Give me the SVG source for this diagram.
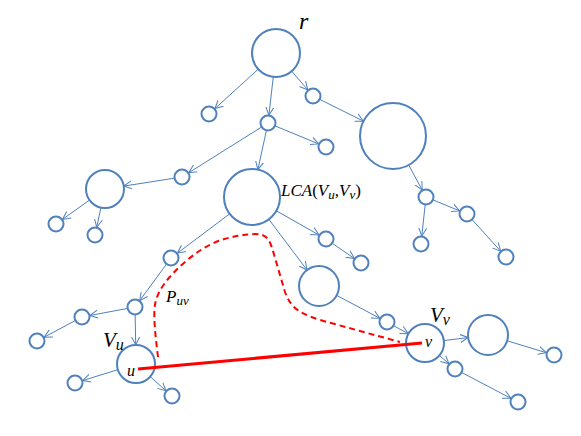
<svg xmlns="http://www.w3.org/2000/svg" width="581" height="436" viewBox="0 0 581 436">
<style>
.n{fill:#fff;stroke:#4f81bd;stroke-width:2}
.e{stroke:#4f81bd;stroke-width:1;fill:none;marker-end:url(#ah)}
.t{font-family:"Liberation Serif","DejaVu Serif",serif;font-style:italic;fill:#000}
.up{font-style:normal}
</style>
<defs>
<marker id="ah" markerUnits="userSpaceOnUse" markerWidth="10" markerHeight="10" refX="8" refY="4" orient="auto" viewBox="0 0 10 8">
<path d="M0,0 L8,4 L0,8" fill="none" stroke="#4f81bd" stroke-width="1"/>
</marker>
</defs>
<g id="connectors">
<line class="e" x1="276" y1="53" x2="214.9" y2="108.6"/>
<line class="e" x1="276" y1="53" x2="268.9" y2="115.1"/>
<line class="e" x1="276" y1="53" x2="307.8" y2="89.9"/>
<line class="e" x1="313" y1="96" x2="363.5" y2="121.2"/>
<line class="e" x1="268" y1="123" x2="188.8" y2="172.7"/>
<line class="e" x1="268" y1="123" x2="257.9" y2="169.6"/>
<line class="e" x1="268" y1="123" x2="318.6" y2="143.9"/>
<line class="e" x1="182" y1="177" x2="123.8" y2="186.1"/>
<line class="e" x1="105" y1="189" x2="62.5" y2="219.4"/>
<line class="e" x1="105" y1="189" x2="96.7" y2="227.2"/>
<line class="e" x1="393" y1="136" x2="422.2" y2="190"/>
<line class="e" x1="426" y1="197" x2="459.6" y2="210.9"/>
<line class="e" x1="426" y1="197" x2="421.8" y2="236"/>
<line class="e" x1="467" y1="214" x2="500.6" y2="251.1"/>
<line class="e" x1="252" y1="197" x2="319" y2="235"/>
<line class="e" x1="252" y1="197" x2="307" y2="270"/>
<line class="e" x1="252" y1="197" x2="177.4" y2="253.2"/>
<line class="e" x1="326" y1="239" x2="354.4" y2="258.5"/>
<line class="e" x1="171" y1="258" x2="139.7" y2="300.6"/>
<line class="e" x1="135" y1="307" x2="89.9" y2="315.5"/>
<line class="e" x1="82" y1="317" x2="44.1" y2="337.2"/>
<line class="e" x1="135" y1="307" x2="135.7" y2="345"/>
<line class="e" x1="136" y1="364" x2="82.6" y2="380.6"/>
<line class="e" x1="136" y1="364" x2="166" y2="390.7"/>
<line class="e" x1="319" y1="286" x2="379.9" y2="318.3"/>
<line class="e" x1="387" y1="322" x2="408.4" y2="333.8"/>
<line class="e" x1="425" y1="343" x2="468.2" y2="337.5"/>
<line class="e" x1="425" y1="343" x2="449" y2="363.8"/>
<line class="e" x1="488" y1="335" x2="546.3" y2="352.7"/>
<line class="e" x1="455" y1="369" x2="510.9" y2="398.3"/>
</g>
<g id="root"><circle class="n" cx="276" cy="53" r="24"/><text class="t" x="299" y="29" font-size="24">r</text></g>
<g id="n209_114"><circle class="n" cx="209" cy="114" r="7.5"/></g>
<g id="n268_123"><circle class="n" cx="268" cy="123" r="7.5"/></g>
<g id="n313_96"><circle class="n" cx="313" cy="96" r="7.5"/></g>
<g id="big"><circle class="n" cx="393" cy="136" r="33"/></g>
<g id="n326_147"><circle class="n" cx="326" cy="147" r="7.5"/></g>
<g id="n182_177"><circle class="n" cx="182" cy="177" r="7.5"/></g>
<g id="m105_189"><circle class="n" cx="105" cy="189" r="19"/></g>
<g id="n56_224"><circle class="n" cx="56" cy="224" r="7.5"/></g>
<g id="n95_235"><circle class="n" cx="95" cy="235" r="7.5"/></g>
<g id="n426_197"><circle class="n" cx="426" cy="197" r="7.5"/></g>
<g id="n467_214"><circle class="n" cx="467" cy="214" r="7.5"/></g>
<g id="n421_244"><circle class="n" cx="421" cy="244" r="7.5"/></g>
<g id="n506_257"><circle class="n" cx="506" cy="257" r="7.5"/></g>
<g id="lca"><circle class="n" cx="252" cy="197" r="28"/><text class="t" x="281" y="196" font-size="17">LCA<tspan class="up">(</tspan>V<tspan font-size="13" dy="3">u</tspan><tspan class="up" dy="-3">,</tspan>V<tspan font-size="13" dy="3">v</tspan><tspan class="up" dy="-3">)</tspan></text></g>
<g id="n326_239"><circle class="n" cx="326" cy="239" r="7.5"/></g>
<g id="n361_263"><circle class="n" cx="361" cy="263" r="7.5"/></g>
<g id="m319_286"><circle class="n" cx="319" cy="286" r="20"/></g>
<g id="n171_258"><circle class="n" cx="171" cy="258" r="7.5"/></g>
<g id="n135_307"><circle class="n" cx="135" cy="307" r="7.5"/></g>
<g id="n82_317"><circle class="n" cx="82" cy="317" r="7.5"/></g>
<g id="n37_341"><circle class="n" cx="37" cy="341" r="7.5"/></g>
<g id="n75_383"><circle class="n" cx="75" cy="383" r="7.5"/></g>
<g id="n172_396"><circle class="n" cx="172" cy="396" r="7.5"/></g>
<g id="n387_322"><circle class="n" cx="387" cy="322" r="7.5"/></g>
<g id="w488_335"><circle class="n" cx="488" cy="335" r="20"/></g>
<g id="n554_355"><circle class="n" cx="554" cy="355" r="7.5"/></g>
<g id="n455_369"><circle class="n" cx="455" cy="369" r="7.5"/></g>
<g id="n518_402"><circle class="n" cx="518" cy="402" r="7.5"/></g>
<g id="Vu"><circle class="n" cx="136" cy="364" r="19"/><text class="t" x="103" y="347" font-size="21">V<tspan font-size="16" dy="3">u</tspan></text></g>
<g id="Vv"><circle class="n" cx="425" cy="343" r="19"/><text class="t" x="430" y="322" font-size="21">V<tspan font-size="16" dy="3">v</tspan></text></g>
<g id="path">
<path d="M158,357 C156,340 153,318 155,305 C157,290 170,275 185,262 C205,245 222,236 255,234 C268,234 270,240 275,258 L285,292 C290,305 295,312 320,320 L400,342" fill="none" stroke="#ff0000" stroke-width="2" stroke-dasharray="6,4"/>
<line x1="138" y1="369" x2="422" y2="343" stroke="#ff0000" stroke-width="3"/>
<text class="t" x="127" y="376" font-size="16">u</text>
<text class="t" x="425" y="347" font-size="16">v</text>
<text class="t" x="166" y="302" font-size="17">P<tspan font-size="13" dy="3">uv</tspan></text>
</g>
</svg>
